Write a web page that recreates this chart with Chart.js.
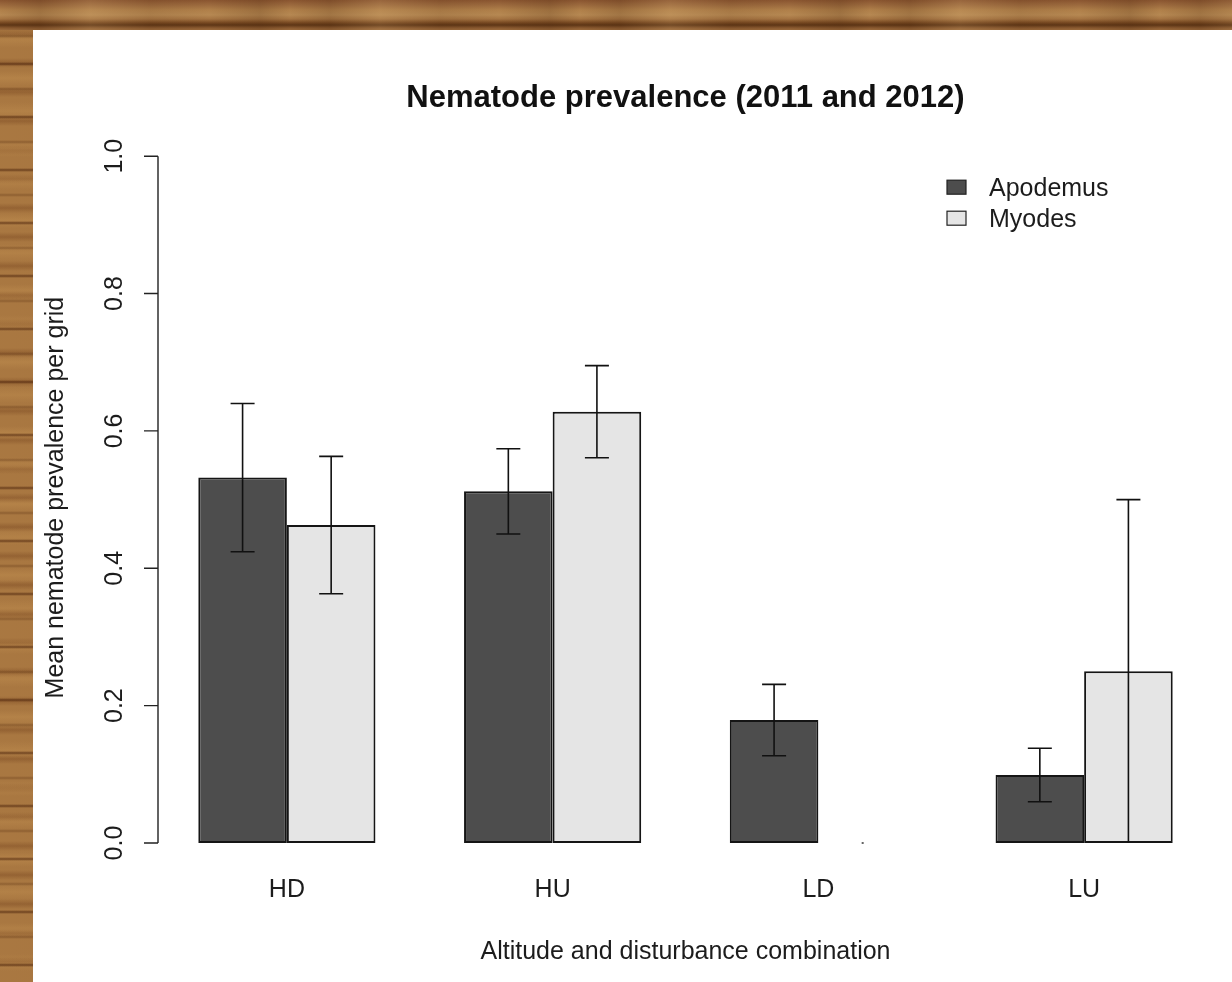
<!DOCTYPE html>
<html>
<head>
<meta charset="utf-8">
<script src="https://cdn.jsdelivr.net/npm/chart.js@4.4.1/dist/chart.umd.min.js"></script>
<style>
  html, body { margin: 0; padding: 0; }
  body {
    width: 1232px; height: 982px; overflow: hidden; position: relative;
    background-color: #a2703a;
    /* left wooden strip: irregular horizontal grain */
    background-image:
      repeating-linear-gradient(180deg,
        rgba(70,30,8,0) 0px, rgba(70,30,8,0) 9px, rgba(70,30,8,0.6) 11px, rgba(70,30,8,0) 13px,
        rgba(70,30,8,0) 34px, rgba(80,40,12,0.3) 36px, rgba(70,30,8,0) 38px, rgba(70,30,8,0) 53px),
      repeating-linear-gradient(180deg,
        rgba(200,150,85,0) 0px, rgba(200,150,85,0.35) 7px, rgba(200,150,85,0) 15px,
        rgba(200,150,85,0) 31px, rgba(200,150,85,0.3) 40px, rgba(200,150,85,0) 48px,
        rgba(200,150,85,0) 71px),
      repeating-linear-gradient(180deg,
        rgba(110,60,25,0) 0px, rgba(110,60,25,0.35) 5px, rgba(110,60,25,0) 10px,
        rgba(110,60,25,0) 29px),
      linear-gradient(90deg, rgba(255,210,150,0.08), rgba(80,40,15,0.12) 60%, rgba(255,210,150,0.1));
  }
  #topWood {
    position: absolute; left: 0; top: 0; width: 1232px; height: 30px;
    background-color: #9a6a3c;
    background-image:
      repeating-linear-gradient(90deg,
        rgba(70,35,10,0) 0px, rgba(70,35,10,0.18) 40px, rgba(230,190,130,0.15) 90px,
        rgba(70,35,10,0.1) 150px, rgba(230,190,130,0) 210px, rgba(70,35,10,0.2) 260px,
        rgba(70,35,10,0) 290px),
      linear-gradient(180deg,
        #8a5530 0px, #9c6a3e 5px, #b0804a 10px, #b68852 15px, #a57442 19px,
        #74461f 23px, #5e3616 25px, #8a5a30 28px, #9a6a3c 30px);
  }
  #panel {
    position: absolute; left: 33px; top: 30px; width: 1199px; height: 952px;
    background: #ffffff;
  }
  #chart { position: absolute; left: 0; top: 0; }
</style>
</head>
<body>
<div id="topWood"></div>
<div id="panel"><canvas id="chart" width="1199" height="952"></canvas></div>
<script>
// Mean nematode prevalence per grid, with standard errors
const categories = ['HD', 'HU', 'LD', 'LU'];
const apodemusMean = [0.532, 0.512, 0.179, 0.099];
const apodemusSE = [0.108, 0.062, 0.052, 0.039];
const myodesMean = [0.463, 0.628, 0, 0.25];
const myodesSE = [0.100, 0.067, 0, 0.25];
const yTicks = [0, 0.2, 0.4, 0.6, 0.8, 1.0];

const FONT = '"Liberation Sans", Arial, sans-serif';
const INK = '#1c1c1c';

// Error bars: vertical whisker with flat caps, drawn from each bar's value
const errorBars = {
  id: 'errorBars',
  afterDatasetsDraw(chart) {
    const ctx = chart.ctx;
    const y = chart.scales.y;
    ctx.save();
    ctx.strokeStyle = '#111';
    ctx.lineWidth = 1.6;
    chart.data.datasets.forEach((ds, di) => {
      const meta = chart.getDatasetMeta(di);
      meta.data.forEach((bar, i) => {
        const v = ds.data[i], e = ds.errors[i];
        const x = bar.x;
        if (e === 0) {
          ctx.fillStyle = '#666';
          ctx.fillRect(x - 1, y.getPixelForValue(v) - 1, 2, 2);
          return;
        }
        const yHi = y.getPixelForValue(v + e);
        const yLo = y.getPixelForValue(Math.max(0, v - e));
        const cap = 12;
        ctx.beginPath();
        ctx.moveTo(x, yHi); ctx.lineTo(x, yLo);
        ctx.moveTo(x - cap, yHi); ctx.lineTo(x + cap, yHi);
        if (v - e > 0) { ctx.moveTo(x - cap, yLo); ctx.lineTo(x + cap, yLo); }
        ctx.stroke();
      });
    });
    ctx.restore();
  }
};

// Left axis in the classic style: line, outward ticks, rotated labels and title
const leftAxis = {
  id: 'leftAxis',
  afterDraw(chart) {
    const ctx = chart.ctx;
    const y = chart.scales.y;
    const area = chart.chartArea;
    const ax = area.left + 4;
    const top = y.getPixelForValue(yTicks[yTicks.length - 1]);
    const bot = y.getPixelForValue(yTicks[0]);
    ctx.save();
    ctx.strokeStyle = '#222';
    ctx.lineWidth = 1.4;
    ctx.beginPath();
    ctx.moveTo(ax, top); ctx.lineTo(ax, bot);
    yTicks.forEach(t => {
      const py = y.getPixelForValue(t);
      ctx.moveTo(ax, py); ctx.lineTo(ax - 14, py);
    });
    ctx.stroke();
    ctx.fillStyle = INK;
    ctx.font = '25px ' + FONT;
    ctx.textAlign = 'center';
    ctx.textBaseline = 'middle';
    yTicks.forEach(t => {
      const py = y.getPixelForValue(t);
      ctx.save();
      ctx.translate(ax - 43, py);
      ctx.rotate(-Math.PI / 2);
      ctx.fillText(t.toFixed(1), 0, 0);
      ctx.restore();
    });
    ctx.save();
    ctx.translate(23, (area.top + area.bottom) / 2 - 2);
    ctx.rotate(-Math.PI / 2);
    ctx.fillText('Mean nematode prevalence per grid', 0, 0);
    ctx.restore();
    ctx.restore();
  }
};

// Legend boxes in the upper right of the plot
const boxLegend = {
  id: 'boxLegend',
  afterDraw(chart) {
    const ctx = chart.ctx;
    const area = chart.chartArea;
    const bx = area.right - 270;
    const by = area.top + 24;
    ctx.save();
    ctx.font = '25px ' + FONT;
    ctx.textAlign = 'left';
    ctx.textBaseline = 'middle';
    chart.data.datasets.forEach((ds, i) => {
      const top = by + i * 31;
      ctx.fillStyle = ds.backgroundColor;
      ctx.fillRect(bx, top, 19, 14);
      ctx.strokeStyle = '#222';
      ctx.lineWidth = 1.2;
      ctx.strokeRect(bx, top, 19, 14);
      ctx.fillStyle = INK;
      ctx.fillText(ds.label, bx + 42, top + 9);
    });
    ctx.restore();
  }
};

new Chart(document.getElementById('chart'), {
  type: 'bar',
  data: {
    labels: categories,
    datasets: [
      { label: 'Apodemus', data: apodemusMean, errors: apodemusSE,
        backgroundColor: '#4d4d4d', borderColor: '#151515', borderWidth: 2, borderSkipped: false },
      { label: 'Myodes', data: myodesMean, errors: myodesSE,
        backgroundColor: '#e5e5e5', borderColor: '#151515', borderWidth: 2, borderSkipped: false }
    ]
  },
  options: {
    responsive: false,
    animation: false,
    devicePixelRatio: 1,
    categoryPercentage: 2 / 3,
    barPercentage: 1,
    layout: { padding: { left: 121, right: 15, top: 0, bottom: 15 } },
    plugins: {
      legend: { display: false },
      tooltip: { enabled: false },
      title: {
        display: true,
        text: 'Nematode prevalence (2011 and 2012)',
        color: '#111',
        font: { family: FONT, size: 31, weight: 'bold' },
        padding: { top: 50, bottom: 39 }
      }
    },
    scales: {
      x: {
        grid: { display: false, drawTicks: false },
        border: { display: false },
        ticks: { color: INK, font: { family: FONT, size: 25 }, padding: 32 },
        title: {
          display: true,
          text: 'Altitude and disturbance combination',
          color: INK,
          font: { family: FONT, size: 25 },
          padding: { top: 0, bottom: 0 }
        }
      },
      y: {
        display: false,
        min: 0,
        max: 1
      }
    }
  },
  plugins: [errorBars, leftAxis, boxLegend]
});
</script>
</body>
</html>
